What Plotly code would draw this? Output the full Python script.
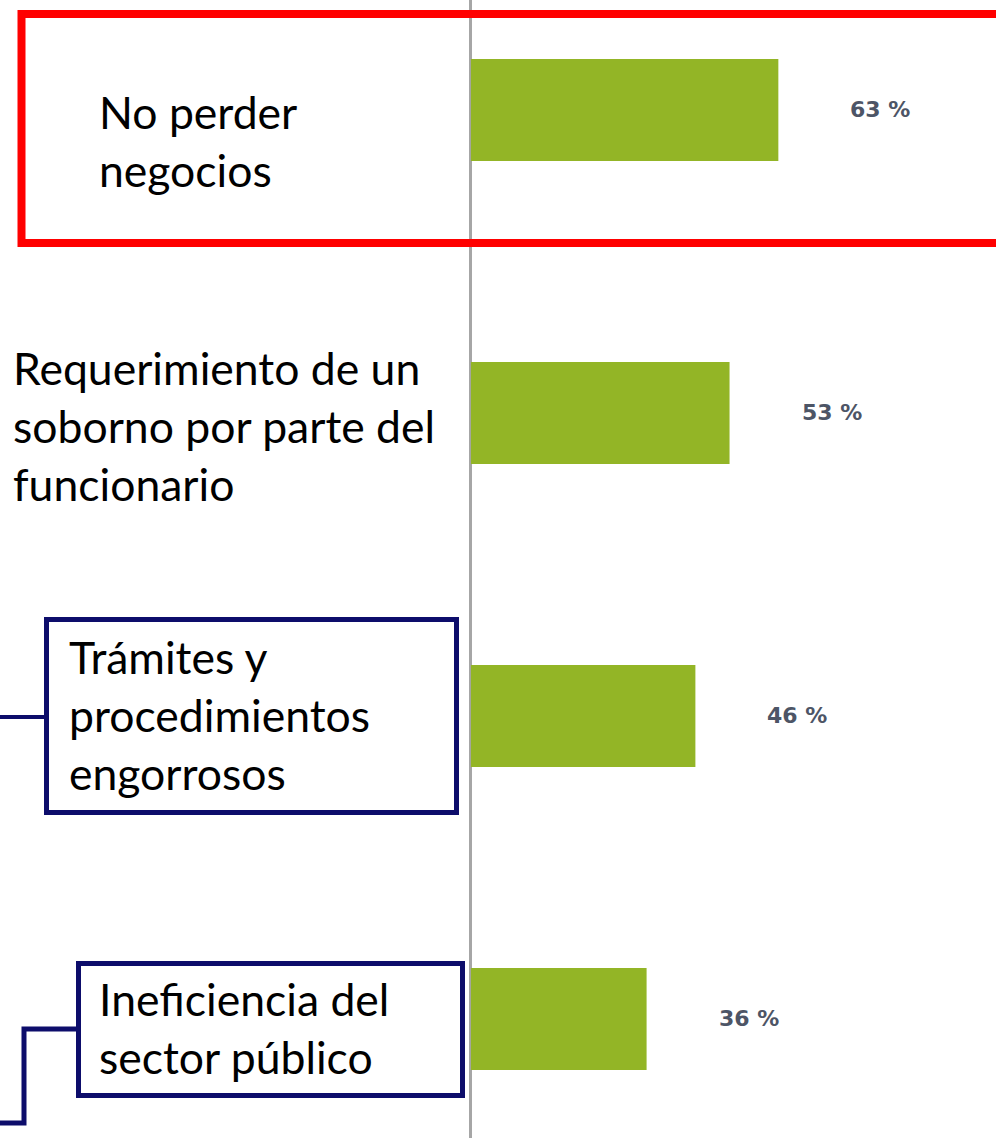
import plotly.graph_objects as go

# datos del gráfico
categorias = ["No perder negocios",
              "Requerimiento de un soborno por parte del funcionario",
              "Trámites y procedimientos engorrosos",
              "Ineficiencia del sector público"]
etiquetas = ["No perder<br>negocios",
             "Requerimiento de un<br>soborno por parte del<br>funcionario",
             "Trámites y<br>procedimientos<br>engorrosos",
             "Ineficiencia del<br>sector público"]
porcentajes = [63, 53, 46, 36]

W, H = 996, 1138
VERDE = "#93b526"
AZUL = "#0d0d6b"


def px_x(p):
    return p / W


def px_y(p):
    return 1 - p / H


fig = go.Figure(go.Bar(
    x=porcentajes,
    y=categorias,
    orientation="h",
    marker=dict(color=VERDE, line=dict(width=0)),
    width=0.337,
    hoverinfo="x+y",
))

# posición del texto de cada etiqueta (px desde la izquierda, desplazamiento vertical)
lab_x = [97, 11, 67, 97]
lab_shift = [-31, -13, 1, -9]

anots = []
for cat, txt, lx, sh in zip(categorias, etiquetas, lab_x, lab_shift):
    anots.append(dict(
        x=px_x(lx), xref="paper", xanchor="left",
        y=cat, yref="y", yanchor="middle", yshift=sh,
        text=txt, showarrow=False, align="left",
        font=dict(family="Lato", size=44.5, color="#000000"),
    ))

# valores en porcentaje a la derecha de las barras
for cat, v in zip(categorias, porcentajes):
    anots.append(dict(
        x=v, xref="x", xanchor="left", xshift=70,
        y=cat, yref="y", yanchor="middle",
        text="<b>%d %%</b>" % v, showarrow=False,
        font=dict(family="DejaVu Sans", size=22, color="#4d5566"),
    ))

shapes = [
    # recuadro rojo
    dict(type="rect", xref="paper", yref="paper",
         x0=px_x(21.5), x1=px_x(1010), y0=px_y(243), y1=px_y(14),
         line=dict(color="#ff0000", width=8)),
    # recuadro trámites + conector
    dict(type="rect", xref="paper", yref="paper",
         x0=px_x(46.5), x1=px_x(456.5), y0=px_y(812.5), y1=px_y(619.5),
         line=dict(color=AZUL, width=5)),
    dict(type="line", xref="paper", yref="paper",
         x0=px_x(0), x1=px_x(44), y0=px_y(717), y1=px_y(717),
         line=dict(color=AZUL, width=4)),
    # recuadro ineficiencia + conector
    dict(type="rect", xref="paper", yref="paper",
         x0=px_x(78.5), x1=px_x(462.5), y0=px_y(1095.5), y1=px_y(963.5),
         line=dict(color=AZUL, width=5)),
    dict(type="path", xref="paper", yref="paper",
         path="M %f,%f L %f,%f L %f,%f L %f,%f" % (
             px_x(76), px_y(1029), px_x(24), px_y(1029),
             px_x(24), px_y(1123), px_x(0), px_y(1123)),
         line=dict(color=AZUL, width=5)),
]

fig.update_layout(
    width=W, height=H,
    margin=dict(l=0, r=0, t=0, b=0),
    paper_bgcolor="white", plot_bgcolor="white",
    showlegend=False,
    xaxis=dict(range=[-96.5, 107.6], showgrid=False, showticklabels=False,
               ticks="", zeroline=True, zerolinecolor="#a6a6a6", zerolinewidth=3,
               fixedrange=True),
    yaxis=dict(range=[3.393, -0.363], showgrid=False, showticklabels=False,
               ticks="", zeroline=False, fixedrange=True),
    annotations=anots,
    shapes=shapes,
)

# quitar el margen por defecto del body para que la figura empiece en (0,0)
fig.write_html("out.html", config={"displayModeBar": False},
               post_script="document.body.style.margin='0';")
